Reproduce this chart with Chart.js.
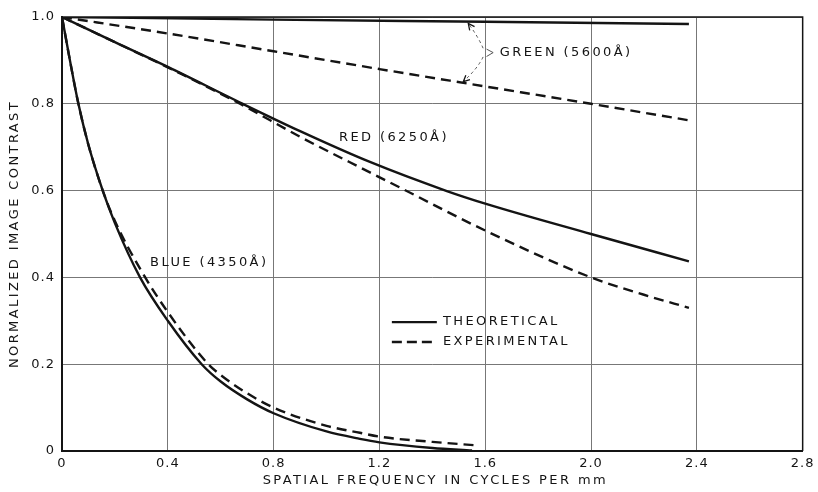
<!DOCTYPE html>
<html>
<head>
<meta charset="utf-8">
<script src="https://cdn.jsdelivr.net/npm/chart.js@4.4.1/dist/chart.umd.min.js"></script>
<style>
  html, body { margin: 0; padding: 0; background: #fff; }
  #wrap { width: 818px; height: 492px; }
</style>
</head>
<body>
<div id="wrap"><canvas id="mtf" width="818" height="492"></canvas></div>
<script>
// spatial frequency (cycles/mm) and normalized contrast
const blueFreqTheo = [0, 0.03, 0.062, 0.1, 0.154, 0.2, 0.295, 0.4, 0.528, 0.6, 0.7, 0.8, 1.0, 1.126, 1.2, 1.4, 1.55];
const blueTheo     = [1.0, 0.9, 0.8, 0.705, 0.6, 0.525, 0.4, 0.3, 0.2, 0.16, 0.119, 0.087, 0.045, 0.028, 0.02, 0.007, 0.001];
const blueFreqExp  = [0, 0.03, 0.062, 0.1, 0.154, 0.2, 0.3, 0.4, 0.553, 0.6, 0.7, 0.8, 1.0, 1.126, 1.2, 1.4, 1.567];
const blueExp      = [1.0, 0.9, 0.8, 0.705, 0.6, 0.53, 0.415, 0.32, 0.2, 0.175, 0.133, 0.1, 0.058, 0.042, 0.033, 0.021, 0.013];

const redFreqTheo  = [0, 0.2, 0.4, 0.673, 0.9, 1.164, 1.455, 1.6, 2.0, 2.37];
const redTheo      = [1.0, 0.942, 0.885, 0.803, 0.737, 0.666, 0.599, 0.57, 0.5, 0.437];
const redFreqExp   = [0, 0.2, 0.4, 0.673, 0.9, 1.164, 1.284, 1.6, 2.0, 2.2, 2.37];
const redExp       = [1.0, 0.942, 0.884, 0.8, 0.724, 0.642, 0.605, 0.508, 0.4, 0.36, 0.33];

const greenFreqTheo = [0, 0.8, 1.6, 2.37];
const greenTheo     = [1.0, 0.994, 0.989, 0.984];
const greenFreqExp  = [0, 0.4, 0.8, 1.2, 1.6, 2.0, 2.37];
const greenExp      = [1.0, 0.962, 0.921, 0.88, 0.84, 0.8, 0.762];

const xTicks = [0, 0.4, 0.8, 1.2, 1.6, 2.0, 2.4, 2.8];
const yTicks = [0, 0.2, 0.4, 0.6, 0.8, 1.0];

const curveLabels  = ['GREEN (5600Å)', 'RED (6250Å)', 'BLUE (4350Å)'];
const legendLabels = ['THEORETICAL', 'EXPERIMENTAL'];
const xTitle = 'SPATIAL FREQUENCY IN CYCLES PER mm';
const yTitle = 'NORMALIZED IMAGE CONTRAST';

// where the hand lettering sits, in data units
const notes = {
    green: { x: 1.655, y: 0.919 },
    red:   { x: 1.047, y: 0.721 },
    blue:  { x: 0.333, y: 0.435 },
    legendLine: [1.247, 1.417],
    legendText: 1.44,
    legendRows: [0.297, 0.251]
};

const ink = '#141414';
const font = '"DejaVu Sans", "Liberation Sans", sans-serif';

function toPts(xs, ys) {
    return xs.map((x, i) => ({ x: x, y: ys[i] }));
}

function curve(xs, ys, dashed) {
    return {
        data: toPts(xs, ys),
        borderColor: ink,
        borderWidth: 2.4,
        borderDash: dashed ? [10, 6] : [],
        pointRadius: 0,
        fill: false,
        cubicInterpolationMode: 'monotone'
    };
}

function arrowHead(ctx, fx, fy, tx, ty) {
    const a = Math.atan2(ty - fy, tx - fx);
    const len = 7;
    ctx.beginPath();
    ctx.moveTo(tx - len * Math.cos(a - 0.45), ty - len * Math.sin(a - 0.45));
    ctx.lineTo(tx, ty);
    ctx.lineTo(tx - len * Math.cos(a + 0.45), ty - len * Math.sin(a + 0.45));
    ctx.stroke();
}

const overlay = {
    id: 'overlay',
    beforeDraw(chart) {
        chart.ctx.letterSpacing = '1px';
    },
    afterDraw(chart) {
        const { ctx, chartArea: a, scales: { x, y } } = chart;
        const px = v => x.getPixelForValue(v);
        const py = v => y.getPixelForValue(v);
        ctx.save();

        // top and right frame
        ctx.strokeStyle = ink;
        ctx.lineWidth = 1.5;
        ctx.beginPath();
        ctx.moveTo(a.left, a.top);
        ctx.lineTo(a.right, a.top);
        ctx.lineTo(a.right, a.bottom);
        ctx.stroke();

        // curve labels
        ctx.font = '13px ' + font;
        ctx.letterSpacing = '2.4px';
        ctx.fillStyle = ink;
        ctx.textAlign = 'left';
        ctx.textBaseline = 'middle';
        ctx.fillText(curveLabels[0], px(notes.green.x), py(notes.green.y));
        ctx.fillText(curveLabels[1], px(notes.red.x), py(notes.red.y));
        ctx.fillText(curveLabels[2], px(notes.blue.x), py(notes.blue.y));

        // green pointer: chevron and two dashed arrows
        ctx.strokeStyle = '#555';
        ctx.lineWidth = 1;
        ctx.beginPath();
        ctx.moveTo(px(1.605), py(0.926));
        ctx.lineTo(px(1.630), py(0.918));
        ctx.lineTo(px(1.605), py(0.909));
        ctx.stroke();
        ctx.setLineDash([3, 3]);
        ctx.beginPath();
        ctx.moveTo(px(1.592), py(0.928));
        ctx.quadraticCurveTo(px(1.572), py(0.956), px(1.536), py(0.985));
        ctx.moveTo(px(1.592), py(0.908));
        ctx.quadraticCurveTo(px(1.572), py(0.882), px(1.517), py(0.851));
        ctx.stroke();
        ctx.setLineDash([]);
        ctx.strokeStyle = ink;
        ctx.lineWidth = 1.3;
        arrowHead(ctx, px(1.572), py(0.956), px(1.536), py(0.985));
        arrowHead(ctx, px(1.572), py(0.882), px(1.517), py(0.851));

        // legend
        ctx.lineWidth = 2.4;
        legendLabels.forEach((lab, i) => {
            const ry = py(notes.legendRows[i]);
            ctx.setLineDash(i === 1 ? [10, 5] : []);
            ctx.beginPath();
            ctx.moveTo(px(notes.legendLine[0]), ry);
            ctx.lineTo(px(notes.legendLine[1]), ry);
            ctx.stroke();
            ctx.fillText(lab, px(notes.legendText), ry);
        });
        ctx.setLineDash([]);

        // axis titles
        ctx.textAlign = 'center';
        ctx.fillText(xTitle, (a.left + a.right) / 2 + 3, 481);
        ctx.translate(15, (a.top + a.bottom) / 2);
        ctx.rotate(-Math.PI / 2);
        ctx.fillText(yTitle, 0, 0);

        ctx.restore();
    }
};

const tickLabel = v => (v === 0 ? '0' : v.toFixed(1));

new Chart(document.getElementById('mtf'), {
    type: 'line',
    data: {
        datasets: [
            curve(greenFreqTheo, greenTheo, false),
            curve(greenFreqExp, greenExp, true),
            curve(redFreqTheo, redTheo, false),
            curve(redFreqExp, redExp, true),
            curve(blueFreqTheo, blueTheo, false),
            curve(blueFreqExp, blueExp, true)
        ]
    },
    options: {
        responsive: false,
        animation: false,
        layout: { padding: { top: 17, right: 15, left: 0, bottom: 0 } },
        plugins: {
            legend: { display: false },
            tooltip: { enabled: false }
        },
        scales: {
            x: {
                type: 'linear',
                min: 0,
                max: 2.8,
                afterBuildTicks: s => { s.ticks = xTicks.map(v => ({ value: v })); },
                afterFit: s => { s.height = 41; },
                ticks: {
                    callback: tickLabel,
                    autoSkip: false,
                    maxRotation: 0,
                    padding: 5,
                    color: ink,
                    font: { family: font, size: 13 }
                },
                grid: { color: '#777', lineWidth: 1, drawTicks: false },
                border: { color: ink, width: 2 }
            },
            y: {
                min: 0,
                max: 1,
                afterBuildTicks: s => { s.ticks = yTicks.map(v => ({ value: v })); },
                afterFit: s => { s.width = 62; },
                ticks: {
                    callback: tickLabel,
                    padding: 7,
                    color: ink,
                    font: { family: font, size: 13 }
                },
                grid: { color: '#777', lineWidth: 1, drawTicks: false },
                border: { color: ink, width: 2 }
            }
        }
    },
    plugins: [overlay]
});
</script>
</body>
</html>
